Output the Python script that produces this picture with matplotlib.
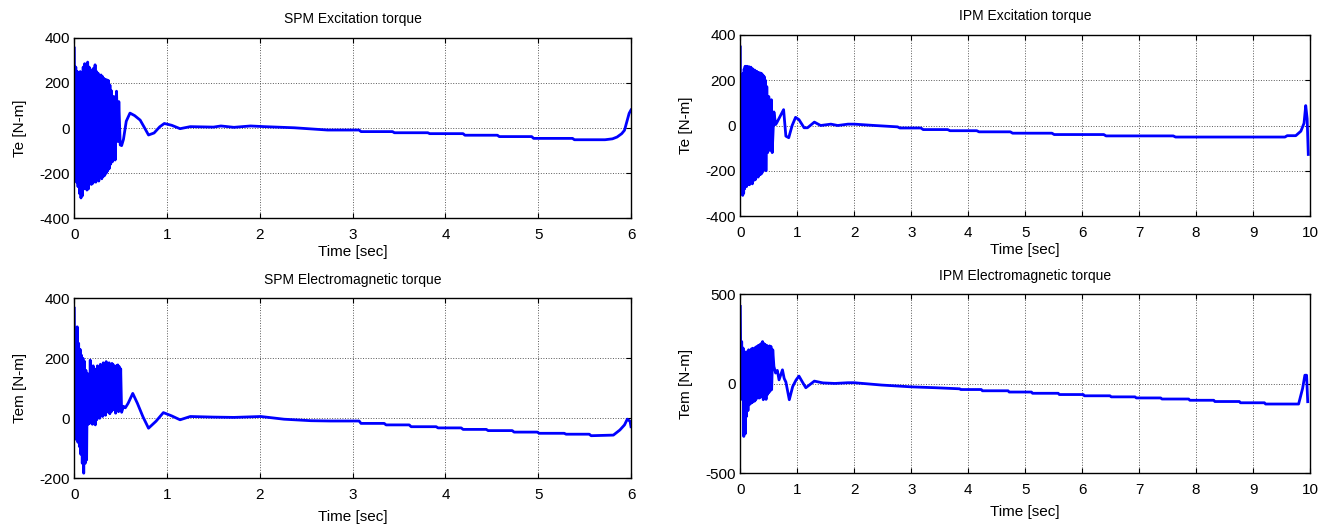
import numpy as np
import matplotlib
matplotlib.use('Agg')
import matplotlib.pyplot as plt

plt.rcParams['font.family'] = ['Liberation Sans', 'DejaVu Sans']
plt.rcParams['font.size'] = 11
plt.rcParams['axes.unicode_minus'] = False

# --- SPM excitation torque (top left) ---
spm_exc_burst_end = 0.40
spm_exc_burst = [354, -200, 270, -240, 250, -260, 240, -290, 250, -310, 230, -300, 270, -270,
                 285, -250, 280, -275, 292, -270, 270, -240, 250, -250, 258, -245, 265, -230,
                 280, -240, 250, -225, 243, -235, 230, -220, 235, -225, 228, -215, 220, -210,
                 215, -200, 213, -190, 210, -180, 190, -160, 165]
spm_exc_t = [0.41, 0.425, 0.44, 0.455, 0.47, 0.48, 0.495, 0.51, 0.53, 0.56,
             0.60, 0.65, 0.71, 0.75, 0.80, 0.86, 0.92, 0.97, 1.05, 1.14,
             1.25, 1.50, 1.58, 1.72, 1.90, 2.05, 2.37, 2.73, 3.07, 3.09,
             3.43, 3.45, 3.81, 3.83, 4.19, 4.21, 4.56, 4.58, 4.93, 4.95,
             5.37, 5.39, 5.72, 5.80, 5.85, 5.90, 5.93, 5.96, 5.98, 6.0]
spm_exc_v = [-150, 140, -142, 163, -60, 117, -75, -78, -50, 30,
             66, 55, 35, 6, -31, -22, 5, 20, 12, -3,
             6, 4, 9, 3, 9, 6, 1, -9, -9, -16,
             -16, -21, -21, -25, -25, -32, -32, -38, -38, -46,
             -46, -52, -52, -48, -40, -25, -10, 35, 65, 80]

# --- IPM excitation torque (top right) ---
ipm_exc_burst_end = 0.44
ipm_exc_burst = [347, -250, 215, -280, 205, -309, 230, -300, 250, -280, 262, -265, 258, -270,
                 262, -262, 255, -258, 260, -262, 250, -255, 258, -250, 245, -258, 250, -245,
                 240, -236, 245, -240, 235, -230, 240, -225, 232, -228, 235, -220, 228, -215,
                 232, -215, 230, -210, 225, -200, 220, -190, 215, -180, 200]
ipm_exc_t = [0.45, 0.465, 0.48, 0.50, 0.52, 0.545, 0.56, 0.59, 0.62, 0.64,
             0.70, 0.76, 0.80, 0.85, 0.91, 0.97, 1.03, 1.12, 1.18, 1.30,
             1.41, 1.59, 1.71, 1.89, 2.0, 2.36, 2.76, 2.80, 3.17, 3.21,
             3.64, 3.68, 4.15, 4.19, 4.74, 4.78, 5.47, 5.51, 6.38, 6.42,
             7.60, 7.64, 9.56, 9.60, 9.75, 9.84, 9.895, 9.925, 9.95, 9.97]
ipm_exc_v = [-200, 172, -120, 128, -110, 114, -120, 60, 4, 12,
             41, 70, -47, -54, 0, 36, 26, -10, -10, 15,
             0, 6, 0, 6, 6, 0, -6, -11, -11, -18,
             -18, -23, -23, -28, -28, -34, -34, -40, -40, -46,
             -46, -51, -51, -45, -45, -25, 10, 88, 30, -128]

# --- SPM electromagnetic torque (bottom left) ---
spm_em_burst_end = 0.50
spm_em_burst = [367, -70, 300, -60, 305, -80, 250, -94, 230, -120, 210, -150, 200, -183,
                190, -150, 160, -139, 150, -20, 130, -17, 194, -15, 160, -20, 175, 0,
                165, -22, 160, -5, 175, 10, 170, 0, 180, 15, 170, 6, 185, 20, 175, 10,
                189, 25, 180, 20, 185, 15, 175, 22, 183, 30, 178, 28, 170, 17, 175, 40,
                178, 22, 172, 30, 165]
spm_em_t = [0.51, 0.53, 0.55, 0.58, 0.63, 0.68, 0.74, 0.80, 0.88, 0.96,
            1.05, 1.14, 1.25, 1.50, 1.72, 2.01, 2.26, 2.55, 2.76, 3.07,
            3.09, 3.34, 3.36, 3.61, 3.63, 3.90, 3.92, 4.17, 4.19, 4.44,
            4.46, 4.72, 4.74, 4.99, 5.01, 5.28, 5.30, 5.55, 5.57, 5.81,
            5.88, 5.93, 5.96, 5.99, 6.0]
spm_em_v = [20, 40, 35, 50, 83, 50, 5, -33, -10, 19,
            8, -5, 6, 4, 3, 6, -3, -8, -9, -9,
            -17, -17, -22, -22, -28, -28, -32, -32, -37, -37,
            -41, -41, -46, -46, -50, -50, -53, -53, -58, -56,
            -39, -22, -3, -10, -28]

# --- IPM electromagnetic torque (bottom right) ---
ipm_em_burst_end = 0.55
ipm_em_burst = [432, -60, 236, -89, 200, -294, 180, -280, 171, -182, 180, -150, 190, -117,
                185, -110, 195, -105, 199, -99, 190, -96, 205, -85, 209, -71, 215, -80,
                218, -75, 225, -68, 236, -89, 225, -80, 218, -87, 215, -60, 209, -50,
                212, -40, 209, -33]
ipm_em_t = [0.57, 0.59, 0.62, 0.65, 0.68, 0.74, 0.77, 0.80, 0.86, 0.92,
            0.98, 1.03, 1.09, 1.15, 1.30, 1.45, 1.66, 1.89, 2.0, 2.48,
            3.0, 3.43, 3.85, 3.87, 4.23, 4.25, 4.70, 4.72, 5.11, 5.13,
            5.58, 5.60, 6.02, 6.04, 6.49, 6.51, 6.93, 6.95, 7.38, 7.40,
            7.87, 7.89, 8.31, 8.33, 8.76, 8.78, 9.20, 9.22, 9.80, 9.87,
            9.91, 9.94, 9.96]
ipm_em_v = [190, 97, 60, 75, 22, 78, 30, 10, -89, -15,
            22, 43, 10, -22, 15, 5, 2, 6, 6, -7,
            -17, -22, -28, -32, -32, -39, -39, -46, -46, -53,
            -53, -60, -60, -67, -67, -73, -73, -79, -79, -85,
            -85, -92, -92, -99, -99, -106, -106, -113, -113, -26,
            48, 48, -100]

W, H = 1334, 529


def series(burst_end, burst, tail_t, tail_v):
    t = np.concatenate([np.linspace(0, burst_end, len(burst)), tail_t])
    v = np.concatenate([burst, tail_v])
    return t, v


def box(left, top, right, bottom):
    # pixel box -> figure fraction
    return [left / W, 1 - bottom / H, (right - left) / W, (bottom - top) / H]


def draw(ax, t, v, title, ylabel, xmax, ylim, yticks, xlabelpad):
    ax.plot(t, v, color='#0000ff', lw=2.0)
    ax.set_xlim(0, xmax)
    ax.set_ylim(*ylim)
    ax.set_xticks(range(0, xmax + 1))
    ax.set_yticks(yticks)
    ax.grid(True, color='0.35', ls=':', lw=0.7)
    ax.tick_params(direction='in', top=True, right=True, length=3.5, width=0.8,
                   labelsize=11, colors='black')
    ax.tick_params(axis='x', pad=7)
    ax.tick_params(axis='y', pad=3)
    for s in ax.spines.values():
        s.set_linewidth(1.0)
    ax.set_title(title, fontsize=10, pad=10.5)
    ax.set_xlabel('Time [sec]', fontsize=11, labelpad=xlabelpad)
    ax.set_ylabel(ylabel, fontsize=11, labelpad=9)


fig = plt.figure(figsize=(W / 100, H / 100), dpi=100)

ax1 = fig.add_axes(box(74.3, 37.7, 631, 218.3))
draw(ax1, *series(spm_exc_burst_end, spm_exc_burst, spm_exc_t, spm_exc_v),
     'SPM Excitation torque', 'Te [N-m]', 6, (-400, 400), [-400, -200, 0, 200, 400], 2)

ax2 = fig.add_axes(box(740.3, 35, 1310, 216))
draw(ax2, *series(ipm_exc_burst_end, ipm_exc_burst, ipm_exc_t, ipm_exc_v),
     'IPM Excitation torque', 'Te [N-m]', 10, (-400, 400), [-400, -200, 0, 200, 400], 2.5)

ax3 = fig.add_axes(box(74.3, 298.3, 631, 478.3))
draw(ax3, *series(spm_em_burst_end, spm_em_burst, spm_em_t, spm_em_v),
     'SPM Electromagnetic torque', 'Tem [N-m]', 6, (-200, 400), [-200, 0, 200, 400], 5.5)

ax4 = fig.add_axes(box(740.3, 294.3, 1310, 473.3))
draw(ax4, *series(ipm_em_burst_end, ipm_em_burst, ipm_em_t, ipm_em_v),
     'IPM Electromagnetic torque', 'Tem [N-m]', 10, (-500, 500), [-500, 0, 500], 5.5)

fig.savefig('out.png', dpi=100)
plt.close(fig)
